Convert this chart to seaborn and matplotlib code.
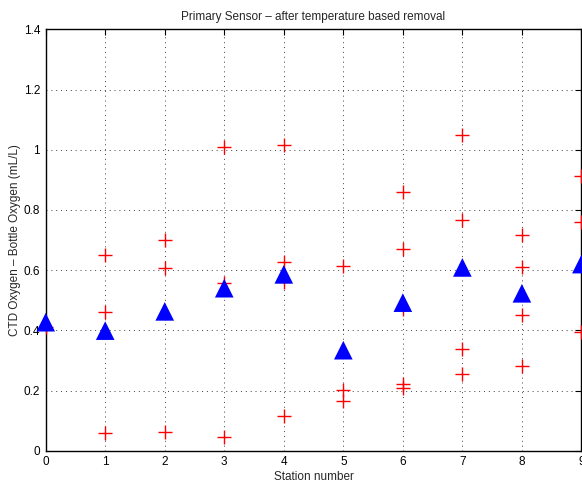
import matplotlib
matplotlib.use("Agg")
import matplotlib.pyplot as plt
import seaborn as sns
import pandas as pd

# --- DATA ---
cross_station = [0, 1, 1, 1, 2, 2, 2, 3, 3, 3, 4, 4, 4, 4,
                 5, 5, 5, 6, 6, 6, 6, 6, 7, 7, 7, 7, 8, 8, 8, 8, 9, 9, 9]
cross_diff = [0.41, 0.65, 0.462, 0.06, 0.70, 0.606, 0.061, 1.008, 0.558, 0.046,
              1.016, 0.628, 0.561, 0.115, 0.614, 0.202, 0.166,
              0.860, 0.669, 0.47, 0.222, 0.207, 1.049, 0.766, 0.337, 0.255,
              0.717, 0.609, 0.451, 0.281, 0.914, 0.761, 0.395]

tri_station = [0, 1, 2, 3, 4, 5, 6, 7, 8, 9]
tri_diff = [0.427, 0.399, 0.463, 0.540, 0.586, 0.334, 0.492, 0.609, 0.523, 0.620]

x_ticks = [0, 1, 2, 3, 4, 5, 6, 7, 8, 9]
y_ticks = [0, 0.2, 0.4, 0.6, 0.8, 1.0, 1.2, 1.4]
y_tick_labels = ["0", "0.2", "0.4", "0.6", "0.8", "1", "1.2", "1.4"]

title = "Primary Sensor \u2013 after temperature based removal"
xlabel = "Station number"
ylabel = "CTD Oxygen \u2013 Bottle Oxygen (mL/L)"

sns.set_theme(style="white")
plt.rcParams['font.family'] = ['Liberation Sans', 'DejaVu Sans']
plt.rcParams['font.size'] = 8.5

crosses = pd.DataFrame({"station": cross_station, "diff": cross_diff})
triangles = pd.DataFrame({"station": tri_station, "diff": tri_diff})

fig = plt.figure(figsize=(5.82, 4.86), dpi=100)
ax = fig.add_axes([0.0785, 0.0726, 0.9205, 0.867])

sns.scatterplot(data=crosses, x="station", y="diff", marker="+", s=115,
                color="red", linewidth=1.0, ax=ax, clip_on=False, zorder=3)
sns.scatterplot(data=triangles, x="station", y="diff", marker="^", s=180,
                color="blue", edgecolor="none", ax=ax, clip_on=False, zorder=4)

ax.set_xlim(0, 9)
ax.set_ylim(0, 1.4)
ax.set_xticks(x_ticks)
ax.set_xticklabels([str(t) for t in x_ticks])
ax.set_yticks(y_ticks)
ax.set_yticklabels(y_tick_labels)

ax.grid(True, linestyle=(0, (1, 4)), color="#404040", linewidth=0.7)
ax.tick_params(direction="in", length=4, width=0.8, colors="black",
               top=True, right=True, labelsize=8.5, pad=4)
for sp in ax.spines.values():
    sp.set_color("black")
    sp.set_linewidth(1.0)

ax.set_title(title, fontsize=8.5, pad=7)
ax.set_xlabel(xlabel, fontsize=8.5, labelpad=2)
ax.set_ylabel(ylabel, fontsize=8.5, labelpad=2)

fig.savefig("out.png", dpi=100)
